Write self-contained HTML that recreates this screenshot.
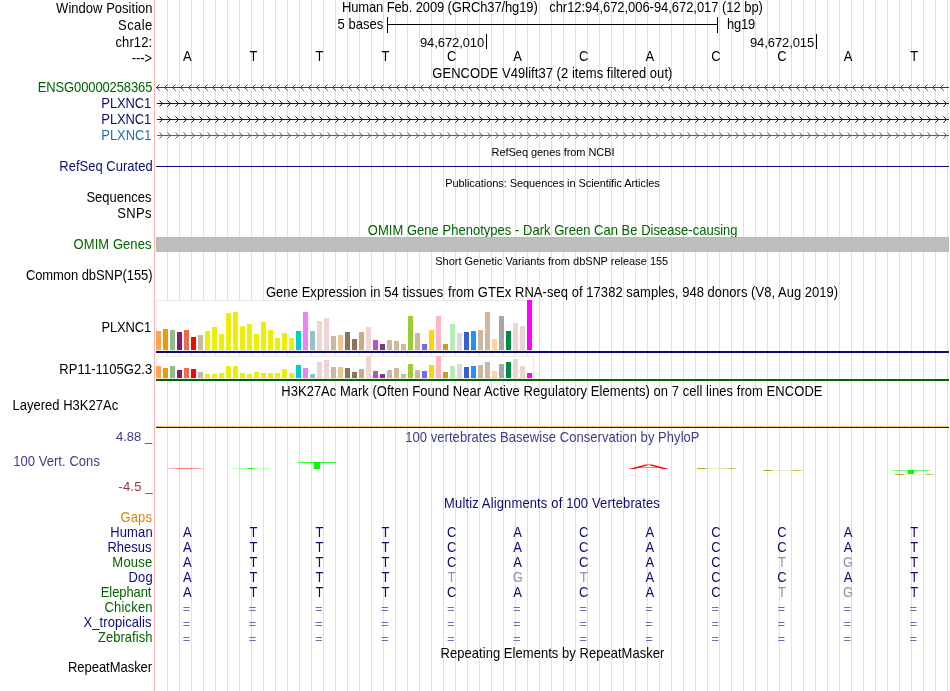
<!DOCTYPE html><html><head><meta charset="utf-8"><title>UCSC Genome Browser</title>
<style>html,body{margin:0;padding:0;background:#fff}svg{display:block;will-change:transform}text{font-family:"Liberation Sans",Arial,Helvetica,sans-serif;font-size:14px}.s{font-size:11px}.q{font-size:13px}.g{text-rendering:geometricPrecision}.e{text-anchor:end}.m{text-anchor:middle}</style></head><body>
<svg width="950" height="691" viewBox="0 0 950 691">
<rect width="950" height="691" fill="#fff"/>
<g shape-rendering="crispEdges">
<rect x="154" y="0" width="1" height="691" fill="#ffb4b4"/>
<rect x="167" y="0" width="1" height="691" fill="#dcdcff"/>
<rect x="179" y="0" width="1" height="691" fill="#dcdcff"/>
<rect x="191" y="0" width="1" height="691" fill="#dcdcff"/>
<rect x="203" y="0" width="1" height="691" fill="#dcdcff"/>
<rect x="215" y="0" width="1" height="691" fill="#dcdcff"/>
<rect x="227" y="0" width="1" height="691" fill="#dcdcff"/>
<rect x="239" y="0" width="1" height="691" fill="#dcdcff"/>
<rect x="251" y="0" width="1" height="691" fill="#dcdcff"/>
<rect x="263" y="0" width="1" height="691" fill="#dcdcff"/>
<rect x="275" y="0" width="1" height="691" fill="#dcdcff"/>
<rect x="287" y="0" width="1" height="691" fill="#dcdcff"/>
<rect x="299" y="0" width="1" height="691" fill="#dcdcff"/>
<rect x="311" y="0" width="1" height="691" fill="#dcdcff"/>
<rect x="323" y="0" width="1" height="691" fill="#dcdcff"/>
<rect x="335" y="0" width="1" height="691" fill="#dcdcff"/>
<rect x="347" y="0" width="1" height="691" fill="#dcdcff"/>
<rect x="359" y="0" width="1" height="691" fill="#dcdcff"/>
<rect x="371" y="0" width="1" height="691" fill="#dcdcff"/>
<rect x="383" y="0" width="1" height="691" fill="#dcdcff"/>
<rect x="395" y="0" width="1" height="691" fill="#dcdcff"/>
<rect x="407" y="0" width="1" height="691" fill="#dcdcff"/>
<rect x="419" y="0" width="1" height="691" fill="#dcdcff"/>
<rect x="431" y="0" width="1" height="691" fill="#dcdcff"/>
<rect x="443" y="0" width="1" height="691" fill="#dcdcff"/>
<rect x="455" y="0" width="1" height="691" fill="#dcdcff"/>
<rect x="467" y="0" width="1" height="691" fill="#dcdcff"/>
<rect x="479" y="0" width="1" height="691" fill="#dcdcff"/>
<rect x="491" y="0" width="1" height="691" fill="#dcdcff"/>
<rect x="503" y="0" width="1" height="691" fill="#dcdcff"/>
<rect x="515" y="0" width="1" height="691" fill="#dcdcff"/>
<rect x="527" y="0" width="1" height="691" fill="#dcdcff"/>
<rect x="539" y="0" width="1" height="691" fill="#dcdcff"/>
<rect x="551" y="0" width="1" height="691" fill="#dcdcff"/>
<rect x="563" y="0" width="1" height="691" fill="#dcdcff"/>
<rect x="575" y="0" width="1" height="691" fill="#dcdcff"/>
<rect x="587" y="0" width="1" height="691" fill="#dcdcff"/>
<rect x="599" y="0" width="1" height="691" fill="#dcdcff"/>
<rect x="611" y="0" width="1" height="691" fill="#dcdcff"/>
<rect x="623" y="0" width="1" height="691" fill="#dcdcff"/>
<rect x="635" y="0" width="1" height="691" fill="#dcdcff"/>
<rect x="647" y="0" width="1" height="691" fill="#dcdcff"/>
<rect x="659" y="0" width="1" height="691" fill="#dcdcff"/>
<rect x="671" y="0" width="1" height="691" fill="#dcdcff"/>
<rect x="683" y="0" width="1" height="691" fill="#dcdcff"/>
<rect x="695" y="0" width="1" height="691" fill="#dcdcff"/>
<rect x="707" y="0" width="1" height="691" fill="#dcdcff"/>
<rect x="719" y="0" width="1" height="691" fill="#dcdcff"/>
<rect x="731" y="0" width="1" height="691" fill="#dcdcff"/>
<rect x="743" y="0" width="1" height="691" fill="#dcdcff"/>
<rect x="755" y="0" width="1" height="691" fill="#dcdcff"/>
<rect x="767" y="0" width="1" height="691" fill="#dcdcff"/>
<rect x="779" y="0" width="1" height="691" fill="#dcdcff"/>
<rect x="791" y="0" width="1" height="691" fill="#dcdcff"/>
<rect x="803" y="0" width="1" height="691" fill="#dcdcff"/>
<rect x="815" y="0" width="1" height="691" fill="#dcdcff"/>
<rect x="827" y="0" width="1" height="691" fill="#dcdcff"/>
<rect x="839" y="0" width="1" height="691" fill="#dcdcff"/>
<rect x="851" y="0" width="1" height="691" fill="#dcdcff"/>
<rect x="863" y="0" width="1" height="691" fill="#dcdcff"/>
<rect x="875" y="0" width="1" height="691" fill="#dcdcff"/>
<rect x="887" y="0" width="1" height="691" fill="#dcdcff"/>
<rect x="899" y="0" width="1" height="691" fill="#dcdcff"/>
<rect x="911" y="0" width="1" height="691" fill="#dcdcff"/>
<rect x="923" y="0" width="1" height="691" fill="#dcdcff"/>
<rect x="935" y="0" width="1" height="691" fill="#dcdcff"/>
<rect x="947" y="0" width="1" height="691" fill="#dcdcff"/>
</g>
<text transform="scale(0.92857,1)" x="164.34" y="13" class="e" textLength="103.93">Window Position</text>
<text transform="scale(0.92857,1)" x="163.86" y="30" class="e" textLength="36.67">Scale</text>
<text transform="scale(0.92857,1)" x="163.85" y="47" class="e" textLength="39.45">chr12:</text>
<text transform="scale(0.92857,1)" x="163.69" y="63" class="e" textLength="21.87">---&gt;</text>
<text transform="scale(0.92857,1)" x="368.31" y="12" textLength="210.8">Human Feb. 2009 (GRCh37/hg19)</text>
<text transform="scale(0.92857,1)" x="591.51" y="12" textLength="230.06">chr12:94,672,006-94,672,017 (12 bp)</text>
<text transform="scale(0.92857,1)" x="412.67" y="29" class="e" textLength="49.13">5 bases</text>
<text transform="scale(0.92857,1)" x="783.01" y="29" textLength="30.33">hg19</text>
<g shape-rendering="crispEdges" fill="#000">
<rect x="387" y="24" width="331" height="1"/>
<rect x="387" y="17" width="1" height="16"/>
<rect x="717" y="17" width="1" height="16"/>
<rect x="486" y="34" width="1" height="15"/>
<rect x="816" y="34" width="1" height="15"/>
</g>
<text x="484.24" y="47" class="e q" textLength="64.26">94,672,010</text>
<text x="814.19" y="47" class="e q" textLength="64.21">94,672,015</text>
<text transform="scale(0.92857,1)" x="201.71" y="61" class="m">A</text>
<text transform="scale(0.92857,1)" x="272.89" y="61" class="m">T</text>
<text transform="scale(0.92857,1)" x="344.08" y="61" class="m">T</text>
<text transform="scale(0.92857,1)" x="415.15" y="61" class="m">T</text>
<text transform="scale(0.92857,1)" x="486.34" y="61" class="m">C</text>
<text transform="scale(0.92857,1)" x="557.52" y="61" class="m">A</text>
<text transform="scale(0.92857,1)" x="628.71" y="61" class="m">C</text>
<text transform="scale(0.92857,1)" x="699.89" y="61" class="m">A</text>
<text transform="scale(0.92857,1)" x="771.08" y="61" class="m">C</text>
<text transform="scale(0.92857,1)" x="842.15" y="61" class="m">C</text>
<text transform="scale(0.92857,1)" x="913.34" y="61" class="m">A</text>
<text transform="scale(0.92857,1)" x="984.52" y="61" class="m">T</text>
<text transform="scale(0.92857,1)" x="594.83" y="78" class="m" textLength="258.56">GENCODE V49lift37 (2 items filtered out)</text>
<text transform="scale(0.92857,1)" x="164.08" y="92" class="e" fill="#006400" textLength="123.4">ENSG00000258365</text>
<text transform="scale(0.92857,1)" x="162.88" y="108" class="e" fill="#0c0c78" textLength="53.71">PLXNC1</text>
<text transform="scale(0.92857,1)" x="162.88" y="124" class="e" fill="#0c0c78" textLength="53.71">PLXNC1</text>
<text transform="scale(0.92857,1)" x="163.14" y="140" class="e" fill="#1a6fae" textLength="54.01">PLXNC1</text>
<g stroke="#006400" stroke-width="1" fill="none">
<path d="M156 87.5H949" shape-rendering="crispEdges"/>
<path d="M159.5 84.5L156.5 87.5L159.5 90.5M167.5 84.5L164.5 87.5L167.5 90.5M175.5 84.5L172.5 87.5L175.5 90.5M183.5 84.5L180.5 87.5L183.5 90.5M191.5 84.5L188.5 87.5L191.5 90.5M199.5 84.5L196.5 87.5L199.5 90.5M207.5 84.5L204.5 87.5L207.5 90.5M215.5 84.5L212.5 87.5L215.5 90.5M223.5 84.5L220.5 87.5L223.5 90.5M231.5 84.5L228.5 87.5L231.5 90.5M239.5 84.5L236.5 87.5L239.5 90.5M247.5 84.5L244.5 87.5L247.5 90.5M255.5 84.5L252.5 87.5L255.5 90.5M263.5 84.5L260.5 87.5L263.5 90.5M271.5 84.5L268.5 87.5L271.5 90.5M279.5 84.5L276.5 87.5L279.5 90.5M287.5 84.5L284.5 87.5L287.5 90.5M295.5 84.5L292.5 87.5L295.5 90.5M303.5 84.5L300.5 87.5L303.5 90.5M311.5 84.5L308.5 87.5L311.5 90.5M319.5 84.5L316.5 87.5L319.5 90.5M327.5 84.5L324.5 87.5L327.5 90.5M335.5 84.5L332.5 87.5L335.5 90.5M343.5 84.5L340.5 87.5L343.5 90.5M351.5 84.5L348.5 87.5L351.5 90.5M359.5 84.5L356.5 87.5L359.5 90.5M367.5 84.5L364.5 87.5L367.5 90.5M375.5 84.5L372.5 87.5L375.5 90.5M383.5 84.5L380.5 87.5L383.5 90.5M391.5 84.5L388.5 87.5L391.5 90.5M399.5 84.5L396.5 87.5L399.5 90.5M407.5 84.5L404.5 87.5L407.5 90.5M415.5 84.5L412.5 87.5L415.5 90.5M423.5 84.5L420.5 87.5L423.5 90.5M431.5 84.5L428.5 87.5L431.5 90.5M439.5 84.5L436.5 87.5L439.5 90.5M447.5 84.5L444.5 87.5L447.5 90.5M455.5 84.5L452.5 87.5L455.5 90.5M463.5 84.5L460.5 87.5L463.5 90.5M471.5 84.5L468.5 87.5L471.5 90.5M479.5 84.5L476.5 87.5L479.5 90.5M487.5 84.5L484.5 87.5L487.5 90.5M495.5 84.5L492.5 87.5L495.5 90.5M503.5 84.5L500.5 87.5L503.5 90.5M511.5 84.5L508.5 87.5L511.5 90.5M519.5 84.5L516.5 87.5L519.5 90.5M527.5 84.5L524.5 87.5L527.5 90.5M535.5 84.5L532.5 87.5L535.5 90.5M543.5 84.5L540.5 87.5L543.5 90.5M551.5 84.5L548.5 87.5L551.5 90.5M559.5 84.5L556.5 87.5L559.5 90.5M567.5 84.5L564.5 87.5L567.5 90.5M575.5 84.5L572.5 87.5L575.5 90.5M583.5 84.5L580.5 87.5L583.5 90.5M591.5 84.5L588.5 87.5L591.5 90.5M599.5 84.5L596.5 87.5L599.5 90.5M607.5 84.5L604.5 87.5L607.5 90.5M615.5 84.5L612.5 87.5L615.5 90.5M623.5 84.5L620.5 87.5L623.5 90.5M631.5 84.5L628.5 87.5L631.5 90.5M639.5 84.5L636.5 87.5L639.5 90.5M647.5 84.5L644.5 87.5L647.5 90.5M655.5 84.5L652.5 87.5L655.5 90.5M663.5 84.5L660.5 87.5L663.5 90.5M671.5 84.5L668.5 87.5L671.5 90.5M679.5 84.5L676.5 87.5L679.5 90.5M687.5 84.5L684.5 87.5L687.5 90.5M695.5 84.5L692.5 87.5L695.5 90.5M703.5 84.5L700.5 87.5L703.5 90.5M711.5 84.5L708.5 87.5L711.5 90.5M719.5 84.5L716.5 87.5L719.5 90.5M727.5 84.5L724.5 87.5L727.5 90.5M735.5 84.5L732.5 87.5L735.5 90.5M743.5 84.5L740.5 87.5L743.5 90.5M751.5 84.5L748.5 87.5L751.5 90.5M759.5 84.5L756.5 87.5L759.5 90.5M767.5 84.5L764.5 87.5L767.5 90.5M775.5 84.5L772.5 87.5L775.5 90.5M783.5 84.5L780.5 87.5L783.5 90.5M791.5 84.5L788.5 87.5L791.5 90.5M799.5 84.5L796.5 87.5L799.5 90.5M807.5 84.5L804.5 87.5L807.5 90.5M815.5 84.5L812.5 87.5L815.5 90.5M823.5 84.5L820.5 87.5L823.5 90.5M831.5 84.5L828.5 87.5L831.5 90.5M839.5 84.5L836.5 87.5L839.5 90.5M847.5 84.5L844.5 87.5L847.5 90.5M855.5 84.5L852.5 87.5L855.5 90.5M863.5 84.5L860.5 87.5L863.5 90.5M871.5 84.5L868.5 87.5L871.5 90.5M879.5 84.5L876.5 87.5L879.5 90.5M887.5 84.5L884.5 87.5L887.5 90.5M895.5 84.5L892.5 87.5L895.5 90.5M903.5 84.5L900.5 87.5L903.5 90.5M911.5 84.5L908.5 87.5L911.5 90.5M919.5 84.5L916.5 87.5L919.5 90.5M927.5 84.5L924.5 87.5L927.5 90.5M935.5 84.5L932.5 87.5L935.5 90.5M943.5 84.5L940.5 87.5L943.5 90.5"/>
</g>
<g stroke="#0c0c78" stroke-width="1" fill="none">
<path d="M157 103.5H949" shape-rendering="crispEdges"/>
<path d="M159.5 100.5L162.5 103.5L159.5 106.5M167.5 100.5L170.5 103.5L167.5 106.5M175.5 100.5L178.5 103.5L175.5 106.5M183.5 100.5L186.5 103.5L183.5 106.5M191.5 100.5L194.5 103.5L191.5 106.5M199.5 100.5L202.5 103.5L199.5 106.5M207.5 100.5L210.5 103.5L207.5 106.5M215.5 100.5L218.5 103.5L215.5 106.5M223.5 100.5L226.5 103.5L223.5 106.5M231.5 100.5L234.5 103.5L231.5 106.5M239.5 100.5L242.5 103.5L239.5 106.5M247.5 100.5L250.5 103.5L247.5 106.5M255.5 100.5L258.5 103.5L255.5 106.5M263.5 100.5L266.5 103.5L263.5 106.5M271.5 100.5L274.5 103.5L271.5 106.5M279.5 100.5L282.5 103.5L279.5 106.5M287.5 100.5L290.5 103.5L287.5 106.5M295.5 100.5L298.5 103.5L295.5 106.5M303.5 100.5L306.5 103.5L303.5 106.5M311.5 100.5L314.5 103.5L311.5 106.5M319.5 100.5L322.5 103.5L319.5 106.5M327.5 100.5L330.5 103.5L327.5 106.5M335.5 100.5L338.5 103.5L335.5 106.5M343.5 100.5L346.5 103.5L343.5 106.5M351.5 100.5L354.5 103.5L351.5 106.5M359.5 100.5L362.5 103.5L359.5 106.5M367.5 100.5L370.5 103.5L367.5 106.5M375.5 100.5L378.5 103.5L375.5 106.5M383.5 100.5L386.5 103.5L383.5 106.5M391.5 100.5L394.5 103.5L391.5 106.5M399.5 100.5L402.5 103.5L399.5 106.5M407.5 100.5L410.5 103.5L407.5 106.5M415.5 100.5L418.5 103.5L415.5 106.5M423.5 100.5L426.5 103.5L423.5 106.5M431.5 100.5L434.5 103.5L431.5 106.5M439.5 100.5L442.5 103.5L439.5 106.5M447.5 100.5L450.5 103.5L447.5 106.5M455.5 100.5L458.5 103.5L455.5 106.5M463.5 100.5L466.5 103.5L463.5 106.5M471.5 100.5L474.5 103.5L471.5 106.5M479.5 100.5L482.5 103.5L479.5 106.5M487.5 100.5L490.5 103.5L487.5 106.5M495.5 100.5L498.5 103.5L495.5 106.5M503.5 100.5L506.5 103.5L503.5 106.5M511.5 100.5L514.5 103.5L511.5 106.5M519.5 100.5L522.5 103.5L519.5 106.5M527.5 100.5L530.5 103.5L527.5 106.5M535.5 100.5L538.5 103.5L535.5 106.5M543.5 100.5L546.5 103.5L543.5 106.5M551.5 100.5L554.5 103.5L551.5 106.5M559.5 100.5L562.5 103.5L559.5 106.5M567.5 100.5L570.5 103.5L567.5 106.5M575.5 100.5L578.5 103.5L575.5 106.5M583.5 100.5L586.5 103.5L583.5 106.5M591.5 100.5L594.5 103.5L591.5 106.5M599.5 100.5L602.5 103.5L599.5 106.5M607.5 100.5L610.5 103.5L607.5 106.5M615.5 100.5L618.5 103.5L615.5 106.5M623.5 100.5L626.5 103.5L623.5 106.5M631.5 100.5L634.5 103.5L631.5 106.5M639.5 100.5L642.5 103.5L639.5 106.5M647.5 100.5L650.5 103.5L647.5 106.5M655.5 100.5L658.5 103.5L655.5 106.5M663.5 100.5L666.5 103.5L663.5 106.5M671.5 100.5L674.5 103.5L671.5 106.5M679.5 100.5L682.5 103.5L679.5 106.5M687.5 100.5L690.5 103.5L687.5 106.5M695.5 100.5L698.5 103.5L695.5 106.5M703.5 100.5L706.5 103.5L703.5 106.5M711.5 100.5L714.5 103.5L711.5 106.5M719.5 100.5L722.5 103.5L719.5 106.5M727.5 100.5L730.5 103.5L727.5 106.5M735.5 100.5L738.5 103.5L735.5 106.5M743.5 100.5L746.5 103.5L743.5 106.5M751.5 100.5L754.5 103.5L751.5 106.5M759.5 100.5L762.5 103.5L759.5 106.5M767.5 100.5L770.5 103.5L767.5 106.5M775.5 100.5L778.5 103.5L775.5 106.5M783.5 100.5L786.5 103.5L783.5 106.5M791.5 100.5L794.5 103.5L791.5 106.5M799.5 100.5L802.5 103.5L799.5 106.5M807.5 100.5L810.5 103.5L807.5 106.5M815.5 100.5L818.5 103.5L815.5 106.5M823.5 100.5L826.5 103.5L823.5 106.5M831.5 100.5L834.5 103.5L831.5 106.5M839.5 100.5L842.5 103.5L839.5 106.5M847.5 100.5L850.5 103.5L847.5 106.5M855.5 100.5L858.5 103.5L855.5 106.5M863.5 100.5L866.5 103.5L863.5 106.5M871.5 100.5L874.5 103.5L871.5 106.5M879.5 100.5L882.5 103.5L879.5 106.5M887.5 100.5L890.5 103.5L887.5 106.5M895.5 100.5L898.5 103.5L895.5 106.5M903.5 100.5L906.5 103.5L903.5 106.5M911.5 100.5L914.5 103.5L911.5 106.5M919.5 100.5L922.5 103.5L919.5 106.5M927.5 100.5L930.5 103.5L927.5 106.5M935.5 100.5L938.5 103.5L935.5 106.5M943.5 100.5L946.5 103.5L943.5 106.5"/>
</g>
<g stroke="#0c0c78" stroke-width="1" fill="none">
<path d="M157 119.5H949" shape-rendering="crispEdges"/>
<path d="M159.5 116.5L162.5 119.5L159.5 122.5M167.5 116.5L170.5 119.5L167.5 122.5M175.5 116.5L178.5 119.5L175.5 122.5M183.5 116.5L186.5 119.5L183.5 122.5M191.5 116.5L194.5 119.5L191.5 122.5M199.5 116.5L202.5 119.5L199.5 122.5M207.5 116.5L210.5 119.5L207.5 122.5M215.5 116.5L218.5 119.5L215.5 122.5M223.5 116.5L226.5 119.5L223.5 122.5M231.5 116.5L234.5 119.5L231.5 122.5M239.5 116.5L242.5 119.5L239.5 122.5M247.5 116.5L250.5 119.5L247.5 122.5M255.5 116.5L258.5 119.5L255.5 122.5M263.5 116.5L266.5 119.5L263.5 122.5M271.5 116.5L274.5 119.5L271.5 122.5M279.5 116.5L282.5 119.5L279.5 122.5M287.5 116.5L290.5 119.5L287.5 122.5M295.5 116.5L298.5 119.5L295.5 122.5M303.5 116.5L306.5 119.5L303.5 122.5M311.5 116.5L314.5 119.5L311.5 122.5M319.5 116.5L322.5 119.5L319.5 122.5M327.5 116.5L330.5 119.5L327.5 122.5M335.5 116.5L338.5 119.5L335.5 122.5M343.5 116.5L346.5 119.5L343.5 122.5M351.5 116.5L354.5 119.5L351.5 122.5M359.5 116.5L362.5 119.5L359.5 122.5M367.5 116.5L370.5 119.5L367.5 122.5M375.5 116.5L378.5 119.5L375.5 122.5M383.5 116.5L386.5 119.5L383.5 122.5M391.5 116.5L394.5 119.5L391.5 122.5M399.5 116.5L402.5 119.5L399.5 122.5M407.5 116.5L410.5 119.5L407.5 122.5M415.5 116.5L418.5 119.5L415.5 122.5M423.5 116.5L426.5 119.5L423.5 122.5M431.5 116.5L434.5 119.5L431.5 122.5M439.5 116.5L442.5 119.5L439.5 122.5M447.5 116.5L450.5 119.5L447.5 122.5M455.5 116.5L458.5 119.5L455.5 122.5M463.5 116.5L466.5 119.5L463.5 122.5M471.5 116.5L474.5 119.5L471.5 122.5M479.5 116.5L482.5 119.5L479.5 122.5M487.5 116.5L490.5 119.5L487.5 122.5M495.5 116.5L498.5 119.5L495.5 122.5M503.5 116.5L506.5 119.5L503.5 122.5M511.5 116.5L514.5 119.5L511.5 122.5M519.5 116.5L522.5 119.5L519.5 122.5M527.5 116.5L530.5 119.5L527.5 122.5M535.5 116.5L538.5 119.5L535.5 122.5M543.5 116.5L546.5 119.5L543.5 122.5M551.5 116.5L554.5 119.5L551.5 122.5M559.5 116.5L562.5 119.5L559.5 122.5M567.5 116.5L570.5 119.5L567.5 122.5M575.5 116.5L578.5 119.5L575.5 122.5M583.5 116.5L586.5 119.5L583.5 122.5M591.5 116.5L594.5 119.5L591.5 122.5M599.5 116.5L602.5 119.5L599.5 122.5M607.5 116.5L610.5 119.5L607.5 122.5M615.5 116.5L618.5 119.5L615.5 122.5M623.5 116.5L626.5 119.5L623.5 122.5M631.5 116.5L634.5 119.5L631.5 122.5M639.5 116.5L642.5 119.5L639.5 122.5M647.5 116.5L650.5 119.5L647.5 122.5M655.5 116.5L658.5 119.5L655.5 122.5M663.5 116.5L666.5 119.5L663.5 122.5M671.5 116.5L674.5 119.5L671.5 122.5M679.5 116.5L682.5 119.5L679.5 122.5M687.5 116.5L690.5 119.5L687.5 122.5M695.5 116.5L698.5 119.5L695.5 122.5M703.5 116.5L706.5 119.5L703.5 122.5M711.5 116.5L714.5 119.5L711.5 122.5M719.5 116.5L722.5 119.5L719.5 122.5M727.5 116.5L730.5 119.5L727.5 122.5M735.5 116.5L738.5 119.5L735.5 122.5M743.5 116.5L746.5 119.5L743.5 122.5M751.5 116.5L754.5 119.5L751.5 122.5M759.5 116.5L762.5 119.5L759.5 122.5M767.5 116.5L770.5 119.5L767.5 122.5M775.5 116.5L778.5 119.5L775.5 122.5M783.5 116.5L786.5 119.5L783.5 122.5M791.5 116.5L794.5 119.5L791.5 122.5M799.5 116.5L802.5 119.5L799.5 122.5M807.5 116.5L810.5 119.5L807.5 122.5M815.5 116.5L818.5 119.5L815.5 122.5M823.5 116.5L826.5 119.5L823.5 122.5M831.5 116.5L834.5 119.5L831.5 122.5M839.5 116.5L842.5 119.5L839.5 122.5M847.5 116.5L850.5 119.5L847.5 122.5M855.5 116.5L858.5 119.5L855.5 122.5M863.5 116.5L866.5 119.5L863.5 122.5M871.5 116.5L874.5 119.5L871.5 122.5M879.5 116.5L882.5 119.5L879.5 122.5M887.5 116.5L890.5 119.5L887.5 122.5M895.5 116.5L898.5 119.5L895.5 122.5M903.5 116.5L906.5 119.5L903.5 122.5M911.5 116.5L914.5 119.5L911.5 122.5M919.5 116.5L922.5 119.5L919.5 122.5M927.5 116.5L930.5 119.5L927.5 122.5M935.5 116.5L938.5 119.5L935.5 122.5M943.5 116.5L946.5 119.5L943.5 122.5"/>
</g>
<g stroke="#1a6fae" stroke-width="1" fill="none">
<path d="M157 135.5H949" shape-rendering="crispEdges"/>
<path d="M159.5 132.5L162.5 135.5L159.5 138.5M167.5 132.5L170.5 135.5L167.5 138.5M175.5 132.5L178.5 135.5L175.5 138.5M183.5 132.5L186.5 135.5L183.5 138.5M191.5 132.5L194.5 135.5L191.5 138.5M199.5 132.5L202.5 135.5L199.5 138.5M207.5 132.5L210.5 135.5L207.5 138.5M215.5 132.5L218.5 135.5L215.5 138.5M223.5 132.5L226.5 135.5L223.5 138.5M231.5 132.5L234.5 135.5L231.5 138.5M239.5 132.5L242.5 135.5L239.5 138.5M247.5 132.5L250.5 135.5L247.5 138.5M255.5 132.5L258.5 135.5L255.5 138.5M263.5 132.5L266.5 135.5L263.5 138.5M271.5 132.5L274.5 135.5L271.5 138.5M279.5 132.5L282.5 135.5L279.5 138.5M287.5 132.5L290.5 135.5L287.5 138.5M295.5 132.5L298.5 135.5L295.5 138.5M303.5 132.5L306.5 135.5L303.5 138.5M311.5 132.5L314.5 135.5L311.5 138.5M319.5 132.5L322.5 135.5L319.5 138.5M327.5 132.5L330.5 135.5L327.5 138.5M335.5 132.5L338.5 135.5L335.5 138.5M343.5 132.5L346.5 135.5L343.5 138.5M351.5 132.5L354.5 135.5L351.5 138.5M359.5 132.5L362.5 135.5L359.5 138.5M367.5 132.5L370.5 135.5L367.5 138.5M375.5 132.5L378.5 135.5L375.5 138.5M383.5 132.5L386.5 135.5L383.5 138.5M391.5 132.5L394.5 135.5L391.5 138.5M399.5 132.5L402.5 135.5L399.5 138.5M407.5 132.5L410.5 135.5L407.5 138.5M415.5 132.5L418.5 135.5L415.5 138.5M423.5 132.5L426.5 135.5L423.5 138.5M431.5 132.5L434.5 135.5L431.5 138.5M439.5 132.5L442.5 135.5L439.5 138.5M447.5 132.5L450.5 135.5L447.5 138.5M455.5 132.5L458.5 135.5L455.5 138.5M463.5 132.5L466.5 135.5L463.5 138.5M471.5 132.5L474.5 135.5L471.5 138.5M479.5 132.5L482.5 135.5L479.5 138.5M487.5 132.5L490.5 135.5L487.5 138.5M495.5 132.5L498.5 135.5L495.5 138.5M503.5 132.5L506.5 135.5L503.5 138.5M511.5 132.5L514.5 135.5L511.5 138.5M519.5 132.5L522.5 135.5L519.5 138.5M527.5 132.5L530.5 135.5L527.5 138.5M535.5 132.5L538.5 135.5L535.5 138.5M543.5 132.5L546.5 135.5L543.5 138.5M551.5 132.5L554.5 135.5L551.5 138.5M559.5 132.5L562.5 135.5L559.5 138.5M567.5 132.5L570.5 135.5L567.5 138.5M575.5 132.5L578.5 135.5L575.5 138.5M583.5 132.5L586.5 135.5L583.5 138.5M591.5 132.5L594.5 135.5L591.5 138.5M599.5 132.5L602.5 135.5L599.5 138.5M607.5 132.5L610.5 135.5L607.5 138.5M615.5 132.5L618.5 135.5L615.5 138.5M623.5 132.5L626.5 135.5L623.5 138.5M631.5 132.5L634.5 135.5L631.5 138.5M639.5 132.5L642.5 135.5L639.5 138.5M647.5 132.5L650.5 135.5L647.5 138.5M655.5 132.5L658.5 135.5L655.5 138.5M663.5 132.5L666.5 135.5L663.5 138.5M671.5 132.5L674.5 135.5L671.5 138.5M679.5 132.5L682.5 135.5L679.5 138.5M687.5 132.5L690.5 135.5L687.5 138.5M695.5 132.5L698.5 135.5L695.5 138.5M703.5 132.5L706.5 135.5L703.5 138.5M711.5 132.5L714.5 135.5L711.5 138.5M719.5 132.5L722.5 135.5L719.5 138.5M727.5 132.5L730.5 135.5L727.5 138.5M735.5 132.5L738.5 135.5L735.5 138.5M743.5 132.5L746.5 135.5L743.5 138.5M751.5 132.5L754.5 135.5L751.5 138.5M759.5 132.5L762.5 135.5L759.5 138.5M767.5 132.5L770.5 135.5L767.5 138.5M775.5 132.5L778.5 135.5L775.5 138.5M783.5 132.5L786.5 135.5L783.5 138.5M791.5 132.5L794.5 135.5L791.5 138.5M799.5 132.5L802.5 135.5L799.5 138.5M807.5 132.5L810.5 135.5L807.5 138.5M815.5 132.5L818.5 135.5L815.5 138.5M823.5 132.5L826.5 135.5L823.5 138.5M831.5 132.5L834.5 135.5L831.5 138.5M839.5 132.5L842.5 135.5L839.5 138.5M847.5 132.5L850.5 135.5L847.5 138.5M855.5 132.5L858.5 135.5L855.5 138.5M863.5 132.5L866.5 135.5L863.5 138.5M871.5 132.5L874.5 135.5L871.5 138.5M879.5 132.5L882.5 135.5L879.5 138.5M887.5 132.5L890.5 135.5L887.5 138.5M895.5 132.5L898.5 135.5L895.5 138.5M903.5 132.5L906.5 135.5L903.5 138.5M911.5 132.5L914.5 135.5L911.5 138.5M919.5 132.5L922.5 135.5L919.5 138.5M927.5 132.5L930.5 135.5L927.5 138.5M935.5 132.5L938.5 135.5L935.5 138.5M943.5 132.5L946.5 135.5L943.5 138.5"/>
</g>
<text x="553.08" y="156" class="m s" textLength="123.02">RefSeq genes from NCBI</text>
<text transform="scale(0.92857,1)" x="164.4" y="171" class="e" fill="#0c0c78" textLength="100.51">RefSeq Curated</text>
<rect x="156" y="166" width="793" height="1" fill="#0c0c78" shape-rendering="crispEdges"/>
<text x="552.5" y="187" class="m s" textLength="214.65">Publications: Sequences in Scientific Articles</text>
<text transform="scale(0.92857,1)" x="163.04" y="202" class="e" textLength="69.98">Sequences</text>
<text transform="scale(0.92857,1)" x="163.04" y="218" class="e" textLength="36.63">SNPs</text>
<text transform="scale(0.92857,1)" x="595.22" y="235" class="m" fill="#006400" textLength="398.2">OMIM Gene Phenotypes - Dark Green Can Be Disease-causing</text>
<text transform="scale(0.92857,1)" x="163.08" y="249" class="e" fill="#006400" textLength="83.81">OMIM Genes</text>
<g shape-rendering="crispEdges"><rect x="156" y="237" width="793" height="15" fill="#b9b9b9"/><rect x="157" y="238" width="791" height="13" fill="#bebebe"/></g>
<text x="551.72" y="265" class="m s" textLength="233.03">Short Genetic Variants from dbSNP release 155</text>
<text transform="scale(0.92857,1)" x="164.26" y="280" class="e" textLength="136.39">Common dbSNP(155)</text>
<text transform="scale(0.92857,1)" x="286.35" y="297" textLength="191.04">Gene Expression in 54 tissues</text>
<text transform="scale(0.92857,1)" x="482.46" y="297" textLength="188.08">from GTEx RNA-seq of 17382</text>
<text transform="scale(0.92857,1)" x="674.52" y="297" textLength="228.1">samples, 948 donors (V8, Aug 2019)</text>
<text transform="scale(0.92857,1)" x="162.81" y="332" class="e" textLength="53.57">PLXNC1</text>
<text transform="scale(0.92857,1)" x="163.97" y="374" class="e" textLength="100.05">RP11-1105G2.3</text>
<g shape-rendering="crispEdges">
<rect x="156" y="300" width="378" height="51" fill="#e9e9e9"/><rect x="157" y="301" width="376" height="49" fill="#fff"/>
<rect x="156" y="356" width="378" height="23" fill="#e9e9e9"/><rect x="157" y="357" width="376" height="21" fill="#fff"/>
<rect x="156" y="331" width="5" height="19" fill="#FFA54F"/>
<rect x="156" y="366" width="5" height="12" fill="#FFA54F"/>
<rect x="163" y="329" width="5" height="21" fill="#EE9A00"/>
<rect x="163" y="368" width="5" height="10" fill="#EE9A00"/>
<rect x="170" y="330" width="5" height="20" fill="#8FBC8F"/>
<rect x="170" y="366" width="5" height="12" fill="#8FBC8F"/>
<rect x="177" y="332" width="5" height="18" fill="#8B1C62"/>
<rect x="177" y="370" width="5" height="8" fill="#8B1C62"/>
<rect x="184" y="330" width="5" height="20" fill="#EE6A50"/>
<rect x="184" y="368" width="5" height="10" fill="#EE6A50"/>
<rect x="191" y="337" width="5" height="13" fill="#FF0000"/>
<rect x="191" y="369" width="5" height="9" fill="#FF0000"/>
<rect x="198" y="335" width="5" height="15" fill="#CDB79E"/>
<rect x="198" y="372" width="5" height="6" fill="#CDB79E"/>
<rect x="205" y="331" width="5" height="19" fill="#EEEE00"/>
<rect x="205" y="374" width="5" height="4" fill="#EEEE00"/>
<rect x="212" y="327" width="5" height="23" fill="#EEEE00"/>
<rect x="212" y="374" width="5" height="4" fill="#EEEE00"/>
<rect x="219" y="334" width="5" height="16" fill="#EEEE00"/>
<rect x="219" y="373" width="5" height="5" fill="#EEEE00"/>
<rect x="226" y="313" width="5" height="37" fill="#EEEE00"/>
<rect x="226" y="366" width="5" height="12" fill="#EEEE00"/>
<rect x="233" y="312" width="5" height="38" fill="#EEEE00"/>
<rect x="233" y="366" width="5" height="12" fill="#EEEE00"/>
<rect x="240" y="326" width="5" height="24" fill="#EEEE00"/>
<rect x="240" y="373" width="5" height="5" fill="#EEEE00"/>
<rect x="247" y="324" width="5" height="26" fill="#EEEE00"/>
<rect x="247" y="374" width="5" height="4" fill="#EEEE00"/>
<rect x="254" y="334" width="5" height="16" fill="#EEEE00"/>
<rect x="254" y="372" width="5" height="6" fill="#EEEE00"/>
<rect x="261" y="322" width="5" height="28" fill="#EEEE00"/>
<rect x="261" y="373" width="5" height="5" fill="#EEEE00"/>
<rect x="268" y="330" width="5" height="20" fill="#EEEE00"/>
<rect x="268" y="373" width="5" height="5" fill="#EEEE00"/>
<rect x="275" y="338" width="5" height="12" fill="#EEEE00"/>
<rect x="275" y="373" width="5" height="5" fill="#EEEE00"/>
<rect x="282" y="333" width="5" height="17" fill="#EEEE00"/>
<rect x="282" y="369" width="5" height="9" fill="#EEEE00"/>
<rect x="289" y="338" width="5" height="12" fill="#EEEE00"/>
<rect x="289" y="373" width="5" height="5" fill="#EEEE00"/>
<rect x="296" y="331" width="5" height="19" fill="#00CDCD"/>
<rect x="296" y="365" width="5" height="13" fill="#00CDCD"/>
<rect x="303" y="312" width="5" height="38" fill="#EE82EE"/>
<rect x="303" y="368" width="5" height="10" fill="#EE82EE"/>
<rect x="310" y="331" width="5" height="19" fill="#9AC0CD"/>
<rect x="310" y="374" width="5" height="4" fill="#9AC0CD"/>
<rect x="317" y="321" width="5" height="29" fill="#EED5D2"/>
<rect x="317" y="362" width="5" height="16" fill="#EED5D2"/>
<rect x="324" y="318" width="5" height="32" fill="#EED5D2"/>
<rect x="324" y="360" width="5" height="18" fill="#EED5D2"/>
<rect x="331" y="336" width="5" height="14" fill="#CDB79E"/>
<rect x="331" y="367" width="5" height="11" fill="#CDB79E"/>
<rect x="338" y="335" width="5" height="15" fill="#EEC591"/>
<rect x="338" y="367" width="5" height="11" fill="#EEC591"/>
<rect x="345" y="332" width="5" height="18" fill="#8B7355"/>
<rect x="345" y="368" width="5" height="10" fill="#8B7355"/>
<rect x="352" y="339" width="5" height="11" fill="#8B7355"/>
<rect x="352" y="372" width="5" height="6" fill="#8B7355"/>
<rect x="359" y="332" width="5" height="18" fill="#CDAA7D"/>
<rect x="359" y="369" width="5" height="9" fill="#CDAA7D"/>
<rect x="366" y="327" width="5" height="23" fill="#EED5D2"/>
<rect x="366" y="356" width="5" height="22" fill="#EED5D2"/>
<rect x="373" y="340" width="5" height="10" fill="#B452CD"/>
<rect x="373" y="371" width="5" height="7" fill="#B452CD"/>
<rect x="380" y="344" width="5" height="6" fill="#7A378B"/>
<rect x="380" y="374" width="5" height="4" fill="#7A378B"/>
<rect x="387" y="340" width="5" height="10" fill="#CDB79E"/>
<rect x="387" y="370" width="5" height="8" fill="#CDB79E"/>
<rect x="394" y="341" width="5" height="9" fill="#CDB79E"/>
<rect x="394" y="368" width="5" height="10" fill="#CDB79E"/>
<rect x="401" y="344" width="5" height="6" fill="#CDB79E"/>
<rect x="401" y="374" width="5" height="4" fill="#CDB79E"/>
<rect x="408" y="316" width="5" height="34" fill="#9ACD32"/>
<rect x="408" y="364" width="5" height="14" fill="#9ACD32"/>
<rect x="415" y="333" width="5" height="17" fill="#CDB79E"/>
<rect x="415" y="370" width="5" height="8" fill="#CDB79E"/>
<rect x="422" y="344" width="5" height="6" fill="#7A67EE"/>
<rect x="422" y="371" width="5" height="7" fill="#7A67EE"/>
<rect x="429" y="330" width="5" height="20" fill="#FFD700"/>
<rect x="429" y="365" width="5" height="13" fill="#FFD700"/>
<rect x="436" y="316" width="5" height="34" fill="#FFB6C1"/>
<rect x="436" y="356" width="5" height="22" fill="#FFB6C1"/>
<rect x="443" y="344" width="5" height="6" fill="#CD9B1D"/>
<rect x="443" y="372" width="5" height="6" fill="#CD9B1D"/>
<rect x="450" y="324" width="5" height="26" fill="#B4EEB4"/>
<rect x="450" y="366" width="5" height="12" fill="#B4EEB4"/>
<rect x="457" y="333" width="5" height="17" fill="#D9D9D9"/>
<rect x="457" y="364" width="5" height="14" fill="#D9D9D9"/>
<rect x="464" y="332" width="5" height="18" fill="#3A5FCD"/>
<rect x="464" y="367" width="5" height="11" fill="#3A5FCD"/>
<rect x="471" y="331" width="5" height="19" fill="#1E90FF"/>
<rect x="471" y="366" width="5" height="12" fill="#1E90FF"/>
<rect x="478" y="330" width="5" height="20" fill="#CDB79E"/>
<rect x="478" y="365" width="5" height="13" fill="#CDB79E"/>
<rect x="485" y="312" width="5" height="38" fill="#CDB79E"/>
<rect x="485" y="362" width="5" height="16" fill="#CDB79E"/>
<rect x="492" y="339" width="5" height="11" fill="#FFD39B"/>
<rect x="492" y="371" width="5" height="7" fill="#FFD39B"/>
<rect x="499" y="316" width="5" height="34" fill="#A6A6A6"/>
<rect x="499" y="364" width="5" height="14" fill="#A6A6A6"/>
<rect x="506" y="331" width="5" height="19" fill="#008B45"/>
<rect x="506" y="362" width="5" height="16" fill="#008B45"/>
<rect x="513" y="323" width="5" height="27" fill="#EED5D2"/>
<rect x="513" y="359" width="5" height="19" fill="#EED5D2"/>
<rect x="520" y="326" width="5" height="24" fill="#EED5D2"/>
<rect x="520" y="366" width="5" height="12" fill="#EED5D2"/>
<rect x="527" y="300" width="5" height="50" fill="#FF00FF"/>
<rect x="527" y="373" width="5" height="5" fill="#FF00FF"/>
<rect x="156" y="351" width="793" height="2" fill="#0c0c78"/>
<rect x="156" y="379" width="793" height="2" fill="#006400"/>
</g>
<text transform="scale(0.92857,1)" x="302.99" y="396" textLength="180.79">H3K27Ac Mark (Often Found</text>
<text transform="scale(0.92857,1)" x="487.52" y="396" textLength="212.43">Near Active Regulatory Elements)</text>
<text transform="scale(0.92857,1)" x="703.77" y="396" textLength="182.01">on 7 cell lines from ENCODE</text>
<text transform="scale(0.92857,1)" x="13.45" y="410" textLength="113.85">Layered H3K27Ac</text>
<g shape-rendering="crispEdges"><rect x="156" y="426" width="793" height="1" fill="#f5c469"/><rect x="156" y="427" width="793" height="1" fill="#2a1426"/></g>
<text transform="scale(0.92857,1)" x="594.87" y="442" class="m" fill="#3c3c8c" textLength="317.01">100 vertebrates Basewise Conservation by PhyloP</text>
<text x="152.25" y="441" class="e q" fill="#3c3c8c" textLength="36.36">4.88 _</text>
<text transform="scale(0.92857,1)" x="14.18" y="466" fill="#3c3c8c" textLength="93.41">100 Vert. Cons</text>
<text x="152.7" y="491" class="e q" fill="#8c3c3c" textLength="34.37">-4.5 _</text>
<text class="q g" transform="translate(166.00,469) scale(4.542,0.1118)" fill="#ff0000">A</text>
<text class="q g" transform="translate(230.60,469) scale(5.146,0.1006)" fill="#00ff00">T</text>
<text class="q g" transform="translate(296.60,469) scale(5.146,0.7826)" fill="#00ff00">T</text>
<text class="q g" transform="translate(628.40,468.8) scale(4.668,0.5143)" fill="#ff0000">A</text>
<text class="q g" transform="translate(890.60,474) scale(5.146,0.4472)" fill="#00ff00">T</text>
<g shape-rendering="crispEdges">
<rect x="697" y="468" width="40" height="1" fill="#e8e8b9"/><rect x="697" y="468" width="9" height="1" fill="#b6b63c"/><rect x="699" y="468" width="5" height="1" fill="#a5a50f"/><rect x="727" y="468" width="8" height="1" fill="#cdcd6e"/><rect x="729" y="468" width="4" height="1" fill="#bebe50"/>
<rect x="763" y="470" width="40" height="1" fill="#e8e8b9"/><rect x="763" y="470" width="9" height="1" fill="#b6b63c"/><rect x="765" y="470" width="5" height="1" fill="#a5a50f"/><rect x="793" y="470" width="8" height="1" fill="#cdcd6e"/><rect x="795" y="470" width="4" height="1" fill="#bebe50"/>
<rect x="895" y="474" width="40" height="1" fill="#f0f0d2"/><rect x="895" y="474" width="9" height="1" fill="#b6b63c"/><rect x="897" y="474" width="5" height="1" fill="#a5a50f"/><rect x="925" y="474" width="8" height="1" fill="#cdcd6e"/><rect x="927" y="474" width="4" height="1" fill="#bebe50"/>
</g>
<text transform="scale(0.92857,1)" x="594.42" y="508" class="m" fill="#0c0c78" textLength="232.38">Multiz Alignments of 100 Vertebrates</text>
<text transform="scale(0.92857,1)" x="163.67" y="522" class="e" fill="#e08010" textLength="33.99">Gaps</text>
<text transform="scale(0.92857,1)" x="164.4" y="537" class="e" fill="#0c0c78" textLength="45.76">Human</text>
<text transform="scale(0.92857,1)" x="201.71" y="537" class="m" fill="#0c0c78">A</text>
<text transform="scale(0.92857,1)" x="272.89" y="537" class="m" fill="#0c0c78">T</text>
<text transform="scale(0.92857,1)" x="344.08" y="537" class="m" fill="#0c0c78">T</text>
<text transform="scale(0.92857,1)" x="415.15" y="537" class="m" fill="#0c0c78">T</text>
<text transform="scale(0.92857,1)" x="486.34" y="537" class="m" fill="#0c0c78">C</text>
<text transform="scale(0.92857,1)" x="557.52" y="537" class="m" fill="#0c0c78">A</text>
<text transform="scale(0.92857,1)" x="628.71" y="537" class="m" fill="#0c0c78">C</text>
<text transform="scale(0.92857,1)" x="699.89" y="537" class="m" fill="#0c0c78">A</text>
<text transform="scale(0.92857,1)" x="771.08" y="537" class="m" fill="#0c0c78">C</text>
<text transform="scale(0.92857,1)" x="842.15" y="537" class="m" fill="#0c0c78">C</text>
<text transform="scale(0.92857,1)" x="913.34" y="537" class="m" fill="#0c0c78">A</text>
<text transform="scale(0.92857,1)" x="984.52" y="537" class="m" fill="#0c0c78">T</text>
<text transform="scale(0.92857,1)" x="163.15" y="552" class="e" fill="#0c0c78" textLength="47.45">Rhesus</text>
<text transform="scale(0.92857,1)" x="201.71" y="552" class="m" fill="#0c0c78">A</text>
<text transform="scale(0.92857,1)" x="272.89" y="552" class="m" fill="#0c0c78">T</text>
<text transform="scale(0.92857,1)" x="344.08" y="552" class="m" fill="#0c0c78">T</text>
<text transform="scale(0.92857,1)" x="415.15" y="552" class="m" fill="#0c0c78">T</text>
<text transform="scale(0.92857,1)" x="486.34" y="552" class="m" fill="#0c0c78">C</text>
<text transform="scale(0.92857,1)" x="557.52" y="552" class="m" fill="#0c0c78">A</text>
<text transform="scale(0.92857,1)" x="628.71" y="552" class="m" fill="#0c0c78">C</text>
<text transform="scale(0.92857,1)" x="699.89" y="552" class="m" fill="#0c0c78">A</text>
<text transform="scale(0.92857,1)" x="771.08" y="552" class="m" fill="#0c0c78">C</text>
<text transform="scale(0.92857,1)" x="842.15" y="552" class="m" fill="#0c0c78">C</text>
<text transform="scale(0.92857,1)" x="913.34" y="552" class="m" fill="#0c0c78">A</text>
<text transform="scale(0.92857,1)" x="984.52" y="552" class="m" fill="#0c0c78">T</text>
<text transform="scale(0.92857,1)" x="164.03" y="567" class="e" fill="#006400" textLength="43.04">Mouse</text>
<text transform="scale(0.92857,1)" x="201.71" y="567" class="m" fill="#0c0c78">A</text>
<text transform="scale(0.92857,1)" x="272.89" y="567" class="m" fill="#0c0c78">T</text>
<text transform="scale(0.92857,1)" x="344.08" y="567" class="m" fill="#0c0c78">T</text>
<text transform="scale(0.92857,1)" x="415.15" y="567" class="m" fill="#0c0c78">T</text>
<text transform="scale(0.92857,1)" x="486.34" y="567" class="m" fill="#0c0c78">C</text>
<text transform="scale(0.92857,1)" x="557.52" y="567" class="m" fill="#0c0c78">A</text>
<text transform="scale(0.92857,1)" x="628.71" y="567" class="m" fill="#0c0c78">C</text>
<text transform="scale(0.92857,1)" x="699.89" y="567" class="m" fill="#0c0c78">A</text>
<text transform="scale(0.92857,1)" x="771.08" y="567" class="m" fill="#0c0c78">C</text>
<text transform="scale(0.92857,1)" x="842.15" y="567" class="m" fill="#8e8eb6">T</text>
<text transform="scale(0.92857,1)" x="913.34" y="567" class="m" fill="#8e8eb6">G</text>
<text transform="scale(0.92857,1)" x="984.52" y="567" class="m" fill="#0c0c78">T</text>
<text transform="scale(0.92857,1)" x="164.5" y="582" class="e" fill="#0c0c78" textLength="26.24">Dog</text>
<text transform="scale(0.92857,1)" x="201.71" y="582" class="m" fill="#0c0c78">A</text>
<text transform="scale(0.92857,1)" x="272.89" y="582" class="m" fill="#0c0c78">T</text>
<text transform="scale(0.92857,1)" x="344.08" y="582" class="m" fill="#0c0c78">T</text>
<text transform="scale(0.92857,1)" x="415.15" y="582" class="m" fill="#0c0c78">T</text>
<text transform="scale(0.92857,1)" x="486.34" y="582" class="m" fill="#8e8eb6">T</text>
<text transform="scale(0.92857,1)" x="557.52" y="582" class="m" fill="#8e8eb6">G</text>
<text transform="scale(0.92857,1)" x="628.71" y="582" class="m" fill="#8e8eb6">T</text>
<text transform="scale(0.92857,1)" x="699.89" y="582" class="m" fill="#0c0c78">A</text>
<text transform="scale(0.92857,1)" x="771.08" y="582" class="m" fill="#0c0c78">C</text>
<text transform="scale(0.92857,1)" x="842.15" y="582" class="m" fill="#0c0c78">C</text>
<text transform="scale(0.92857,1)" x="913.34" y="582" class="m" fill="#0c0c78">A</text>
<text transform="scale(0.92857,1)" x="984.52" y="582" class="m" fill="#0c0c78">T</text>
<text transform="scale(0.92857,1)" x="163.05" y="597" class="e" fill="#006400" textLength="54.49">Elephant</text>
<text transform="scale(0.92857,1)" x="201.71" y="597" class="m" fill="#0c0c78">A</text>
<text transform="scale(0.92857,1)" x="272.89" y="597" class="m" fill="#0c0c78">T</text>
<text transform="scale(0.92857,1)" x="344.08" y="597" class="m" fill="#0c0c78">T</text>
<text transform="scale(0.92857,1)" x="415.15" y="597" class="m" fill="#0c0c78">T</text>
<text transform="scale(0.92857,1)" x="486.34" y="597" class="m" fill="#0c0c78">C</text>
<text transform="scale(0.92857,1)" x="557.52" y="597" class="m" fill="#0c0c78">A</text>
<text transform="scale(0.92857,1)" x="628.71" y="597" class="m" fill="#0c0c78">C</text>
<text transform="scale(0.92857,1)" x="699.89" y="597" class="m" fill="#0c0c78">A</text>
<text transform="scale(0.92857,1)" x="771.08" y="597" class="m" fill="#0c0c78">C</text>
<text transform="scale(0.92857,1)" x="842.15" y="597" class="m" fill="#8e8eb6">T</text>
<text transform="scale(0.92857,1)" x="913.34" y="597" class="m" fill="#8e8eb6">G</text>
<text transform="scale(0.92857,1)" x="984.52" y="597" class="m" fill="#0c0c78">T</text>
<text transform="scale(0.92857,1)" x="164.27" y="612" class="e" fill="#006400" textLength="51.8">Chicken</text>
<text x="186.5" y="613" class="m q" fill="#7070ae">=</text>
<text x="252.6" y="613" class="m q" fill="#7070ae">=</text>
<text x="318.7" y="613" class="m q" fill="#7070ae">=</text>
<text x="384.7" y="613" class="m q" fill="#7070ae">=</text>
<text x="450.8" y="613" class="m q" fill="#7070ae">=</text>
<text x="516.9000000000001" y="613" class="m q" fill="#7070ae">=</text>
<text x="583.0" y="613" class="m q" fill="#7070ae">=</text>
<text x="649.1" y="613" class="m q" fill="#7070ae">=</text>
<text x="715.2" y="613" class="m q" fill="#7070ae">=</text>
<text x="781.2" y="613" class="m q" fill="#7070ae">=</text>
<text x="847.3000000000001" y="613" class="m q" fill="#7070ae">=</text>
<text x="913.4000000000001" y="613" class="m q" fill="#7070ae">=</text>
<text transform="scale(0.92857,1)" x="163.15" y="627" class="e" fill="#0c0c78" textLength="73.24">X_tropicalis</text>
<text x="186.5" y="628" class="m q" fill="#7070ae">=</text>
<text x="252.6" y="628" class="m q" fill="#7070ae">=</text>
<text x="318.7" y="628" class="m q" fill="#7070ae">=</text>
<text x="384.7" y="628" class="m q" fill="#7070ae">=</text>
<text x="450.8" y="628" class="m q" fill="#7070ae">=</text>
<text x="516.9000000000001" y="628" class="m q" fill="#7070ae">=</text>
<text x="583.0" y="628" class="m q" fill="#7070ae">=</text>
<text x="649.1" y="628" class="m q" fill="#7070ae">=</text>
<text x="715.2" y="628" class="m q" fill="#7070ae">=</text>
<text x="781.2" y="628" class="m q" fill="#7070ae">=</text>
<text x="847.3000000000001" y="628" class="m q" fill="#7070ae">=</text>
<text x="913.4000000000001" y="628" class="m q" fill="#7070ae">=</text>
<text transform="scale(0.92857,1)" x="164.27" y="642" class="e" fill="#006400" textLength="58.84">Zebrafish</text>
<text x="186.5" y="643" class="m q" fill="#7070ae">=</text>
<text x="252.6" y="643" class="m q" fill="#7070ae">=</text>
<text x="318.7" y="643" class="m q" fill="#7070ae">=</text>
<text x="384.7" y="643" class="m q" fill="#7070ae">=</text>
<text x="450.8" y="643" class="m q" fill="#7070ae">=</text>
<text x="516.9000000000001" y="643" class="m q" fill="#7070ae">=</text>
<text x="583.0" y="643" class="m q" fill="#7070ae">=</text>
<text x="649.1" y="643" class="m q" fill="#7070ae">=</text>
<text x="715.2" y="643" class="m q" fill="#7070ae">=</text>
<text x="781.2" y="643" class="m q" fill="#7070ae">=</text>
<text x="847.3000000000001" y="643" class="m q" fill="#7070ae">=</text>
<text x="913.4000000000001" y="643" class="m q" fill="#7070ae">=</text>
<text transform="scale(0.92857,1)" x="595.02" y="658" class="m" textLength="241.0">Repeating Elements by RepeatMasker</text>
<text transform="scale(0.92857,1)" x="163.84" y="672" class="e" textLength="90.68">RepeatMasker</text>
</svg></body></html>
